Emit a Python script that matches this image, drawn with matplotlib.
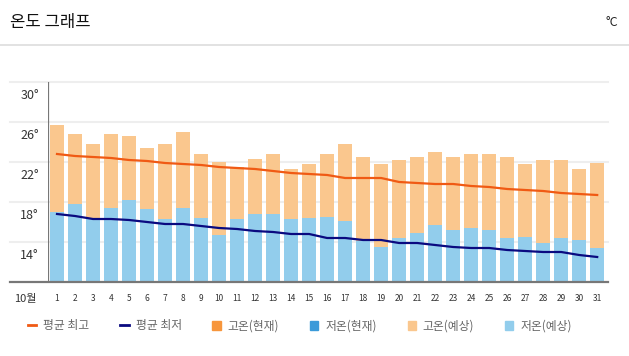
import matplotlib
matplotlib.use("Agg")
import matplotlib.pyplot as plt
import matplotlib.transforms as mtransforms
from matplotlib.lines import Line2D
from matplotlib.patches import Patch

plt.rcParams['font.family'] = ['Noto Sans CJK KR', 'DejaVu Sans']

days = list(range(1, 32))
high_forecast = [27.7, 26.8, 25.8, 26.8, 26.6, 25.4, 25.8, 27.0, 24.8, 24.0,
                 23.5, 24.3, 24.8, 23.3, 23.8, 24.8, 25.8, 24.5, 23.8, 24.2,
                 24.5, 25.0, 24.5, 24.8, 24.8, 24.5, 23.8, 24.2, 24.2, 23.3, 23.9]
low_forecast = [19.0, 19.8, 18.4, 19.4, 20.2, 19.3, 18.3, 19.4, 18.4, 16.7,
                18.3, 18.8, 18.8, 18.3, 18.4, 18.5, 18.1, 16.1, 15.5, 16.4,
                16.9, 17.7, 17.2, 17.4, 17.2, 16.4, 16.5, 15.9, 16.4, 16.2, 15.4]
avg_high = [24.8, 24.6, 24.5, 24.4, 24.2, 24.1, 23.9, 23.8, 23.7, 23.5,
            23.4, 23.3, 23.1, 22.9, 22.8, 22.7, 22.4, 22.4, 22.4, 22.0,
            21.9, 21.8, 21.8, 21.6, 21.5, 21.3, 21.2, 21.1, 20.9, 20.8, 20.7]
avg_low = [18.8, 18.6, 18.3, 18.3, 18.2, 18.0, 17.8, 17.8, 17.6, 17.4,
           17.3, 17.1, 17.0, 16.8, 16.8, 16.4, 16.4, 16.2, 16.2, 15.9,
           15.9, 15.7, 15.5, 15.4, 15.4, 15.2, 15.1, 15.0, 15.0, 14.7, 14.5]
ytick_vals = [14, 18, 22, 26, 30]
grid_vals = [16, 20, 24, 28, 32]
legend_labels = ['평균 최고', '평균 최저', '고온(현재)', '저온(현재)', '고온(예상)', '저온(예상)']

c_avg_high = '#F05A14'
c_avg_low = '#0A0A80'
c_high_now = '#F7963C'
c_low_now = '#3A9AD9'
c_high_fc = '#FAC78E'
c_low_fc = '#92CDEC'

W, H = 629, 356
fig = plt.figure(figsize=(W / 100, H / 100), dpi=100)
fig.patch.set_facecolor('white')

ax = fig.add_axes([48 / W, (H - 282) / H, 560 / W, 200 / H])
ax.set_xlim(0.5, 31.6)
ax.set_ylim(12, 32)

ax.bar(days, high_forecast, width=0.78, color=c_high_fc, zorder=2)
ax.bar(days, low_forecast, width=0.78, color=c_low_fc, zorder=3)
ax.plot(days, avg_high, color=c_avg_high, lw=1.6, zorder=4)
ax.plot(days, avg_low, color=c_avg_low, lw=1.6, zorder=4)

for s in ax.spines.values():
    s.set_visible(False)
ax.set_xticks([])
ax.set_yticks([])

tr = mtransforms.blended_transform_factory(fig.transFigure, ax.transData)
for g in grid_vals:
    ax.add_line(Line2D([10 / W, 608 / W], [g, g], transform=tr, color='#EEEEEE',
                       lw=1.5, clip_on=False, zorder=1))
ax.add_line(Line2D([10 / W, 608 / W], [12, 12], transform=tr, color='#777777',
                   lw=1.6, clip_on=False, zorder=5))
ax.axvline(0.5, color='#777777', lw=1.6, zorder=5)

for v in ytick_vals:
    ax.text(39 / W, v, f'{v}°', transform=tr, ha='right', va='bottom',
            fontsize=9, color='#333333')

for d in days:
    ax.text(d, -0.06, str(d), transform=ax.get_xaxis_transform(), ha='center',
            va='top', fontsize=6, color='#333333')
ax.text(25 / W, -0.06, '10월', transform=mtransforms.blended_transform_factory(
    fig.transFigure, ax.transAxes), ha='center', va='top', fontsize=8, color='#333333')

fig.text(10 / W, 1 - 22 / H, '온도 그래프', ha='left', va='center', fontsize=12, color='#111111')
fig.text(618 / W, 1 - 22 / H, '°C', ha='right', va='center', fontsize=9, color='#222222')
fig.add_artist(Line2D([0, 1], [1 - 45 / H, 1 - 45 / H], color='#DDDDDD', lw=1.2))

handles = [
    Line2D([0], [0], color=c_avg_high, lw=2),
    Line2D([0], [0], color=c_avg_low, lw=2),
    Patch(color=c_high_now),
    Patch(color=c_low_now),
    Patch(color=c_high_fc),
    Patch(color=c_low_fc),
]
leg = fig.legend(handles, legend_labels, loc='center', bbox_to_anchor=(300 / W, 1 - 326 / H),
                 ncol=6, frameon=False, fontsize=8.5, handlelength=0.7, handleheight=0.7,
                 handletextpad=0.6, columnspacing=2.6, labelcolor='#666666')

fig.savefig('out.png', dpi=100, facecolor='white')
